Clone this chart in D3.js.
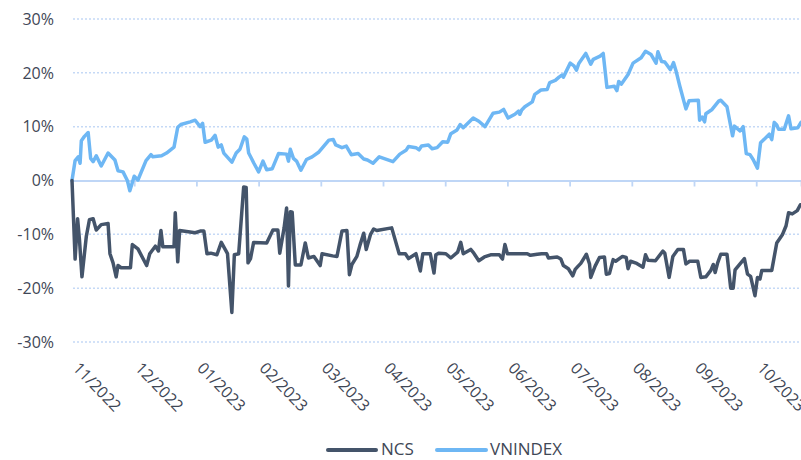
<!DOCTYPE html>
<html>
<head>
<meta charset="utf-8">
<script src="https://cdn.jsdelivr.net/npm/d3@7"></script>
<style>
  html, body { margin: 0; padding: 0; background: #ffffff; }
  svg { display: block; }
</style>
</head>
<body>
<svg id="chart" width="801" height="460"></svg>
<script>
// Month tick labels (one per month, evenly spaced on the axis)
const monthLabels = ["11/2022","12/2022","01/2023","02/2023","03/2023","04/2023","05/2023","06/2023","07/2023","08/2023","09/2023","10/2023"];
const yTicks = [-30, -20, -10, 0, 10, 20, 30];
const seriesNames = ["NCS", "VNINDEX"];

// t = months since 11/2022 start, value in %
const vnindexT = [0,0.05,0.10,0.13,0.15,0.20,0.26,0.30,0.34,0.39,0.47,0.58,0.69,0.74,0.82,0.89,0.93,1.00,1.06,1.19,1.27,1.30,1.44,1.52,1.64,1.70,1.75,1.90,1.98,2.06,2.10,2.14,2.24,2.30,2.35,2.40,2.44,2.57,2.64,2.70,2.77,2.81,2.84,2.89,2.92,3.00,3.07,3.13,3.22,3.32,3.45,3.48,3.51,3.56,3.61,3.68,3.77,3.86,3.97,4.13,4.20,4.24,4.34,4.41,4.49,4.60,4.69,4.75,4.84,4.94,5.16,5.27,5.37,5.41,5.53,5.58,5.62,5.73,5.79,5.87,5.96,6.04,6.09,6.19,6.24,6.29,6.45,6.54,6.64,6.77,6.87,6.94,7.01,7.12,7.18,7.20,7.23,7.28,7.40,7.44,7.54,7.64,7.68,7.77,7.83,7.88,7.90,8.01,8.07,8.11,8.15,8.26,8.34,8.38,8.49,8.54,8.60,8.72,8.76,8.79,8.83,8.94,9.02,9.15,9.22,9.31,9.39,9.42,9.48,9.53,9.62,9.67,9.71,9.77,9.87,9.92,10.07,10.09,10.13,10.17,10.19,10.29,10.40,10.43,10.53,10.62,10.65,10.74,10.79,10.84,10.90,10.95,11.02,11.07,11.15,11.21,11.25,11.29,11.33,11.36,11.45,11.52,11.56,11.67,11.72];
const vnindexV = [0,3.7,4.4,3.2,7.4,8.2,8.9,4.1,3.5,4.6,2.7,5.1,3.8,1.8,1.6,0.0,-1.9,0.8,0.1,3.7,4.8,4.4,4.6,5.1,6.2,9.9,10.4,10.9,11.2,10.0,10.6,7.1,7.5,8.4,6.2,6.6,5.1,3.4,5.1,5.8,8.1,7.7,5.1,4.0,3.3,1.6,3.6,2.0,2.2,5.0,4.9,3.6,5.8,4.1,3.6,1.9,3.9,4.4,5.3,7.5,7.6,6.6,6.1,6.4,4.8,5.0,4.0,3.8,3.2,4.4,3.5,4.9,5.6,6.3,6.1,5.7,6.4,6.6,5.9,6.1,7.2,7.1,8.7,9.4,10.4,9.8,11.6,11.0,10.0,12.5,12.7,13.2,11.6,12.3,12.9,12.3,13.1,13.7,14.6,16.0,16.8,16.9,18.2,18.6,19.2,19.6,19.2,21.8,21.3,20.5,21.8,23.6,21.6,22.5,23.1,23.6,17.3,17.5,16.7,18.4,17.9,19.7,21.8,22.8,24.0,23.4,21.8,23.9,22.1,22.0,20.6,21.9,20.4,17.6,13.3,14.8,14.9,11.2,11.8,10.9,12.4,13.2,14.8,14.9,13.7,8.3,10.1,9.2,10.0,5.0,4.8,3.9,2.3,7.0,7.9,8.6,7.6,10.8,10.3,9.5,9.5,12.0,9.6,9.8,10.8];

const ncsT = [0,0.05,0.09,0.12,0.16,0.23,0.28,0.34,0.39,0.47,0.58,0.61,0.66,0.71,0.74,0.79,0.94,0.97,1.06,1.20,1.25,1.34,1.39,1.43,1.46,1.64,1.66,1.70,1.73,1.98,2.06,2.12,2.17,2.23,2.33,2.40,2.50,2.57,2.61,2.68,2.76,2.80,2.83,2.87,2.92,3.13,3.23,3.31,3.34,3.41,3.45,3.48,3.51,3.54,3.59,3.68,3.75,3.80,3.89,3.99,4.02,4.19,4.26,4.34,4.42,4.46,4.50,4.58,4.63,4.69,4.73,4.80,4.85,4.90,5.14,5.26,5.36,5.41,5.53,5.60,5.64,5.76,5.82,5.85,5.90,6.01,6.09,6.20,6.25,6.29,6.41,6.46,6.54,6.63,6.73,6.87,6.92,6.96,7.00,7.32,7.37,7.48,7.55,7.63,7.66,7.80,7.86,7.90,7.98,8.05,8.09,8.13,8.18,8.27,8.32,8.34,8.41,8.48,8.56,8.59,8.64,8.70,8.74,8.85,8.91,8.94,8.98,9.08,9.18,9.22,9.26,9.38,9.50,9.53,9.60,9.66,9.74,9.83,9.87,9.93,10.06,10.11,10.19,10.27,10.31,10.34,10.38,10.43,10.53,10.59,10.63,10.66,10.81,10.86,10.91,10.98,11.02,11.06,11.09,11.25,11.33,11.42,11.48,11.52,11.58,11.66,11.71];
const ncsV = [0,-14.6,-7.1,-11.0,-17.9,-10.4,-7.3,-7.1,-9.2,-8.2,-8.0,-13.6,-15.3,-17.9,-15.8,-16.2,-16.2,-11.9,-12.7,-15.8,-13.6,-12.2,-13.1,-9.3,-12.3,-12.3,-6.0,-15.1,-9.3,-9.7,-9.4,-9.4,-13.6,-13.5,-13.8,-11.5,-13.6,-24.5,-13.8,-13.6,-1.2,-1.3,-15.3,-14.5,-11.5,-11.6,-9.2,-9.2,-13.5,-8.8,-5.1,-19.6,-5.8,-5.9,-15.7,-15.7,-11.6,-14.4,-14.1,-15.8,-13.6,-14.0,-14.1,-9.4,-9.3,-17.5,-15.6,-14.1,-12.0,-9.8,-12.8,-10.0,-9.0,-9.3,-8.8,-13.6,-13.6,-14.5,-13.6,-16.8,-13.6,-13.6,-17.2,-13.8,-13.5,-13.6,-14.4,-13.3,-11.5,-13.6,-12.8,-13.5,-14.9,-14.2,-13.8,-13.8,-14.6,-11.9,-13.6,-13.6,-13.9,-13.7,-13.6,-13.6,-14.4,-14.2,-14.6,-15.8,-16.4,-17.7,-16.5,-16.0,-15.4,-13.7,-15.5,-18.0,-15.9,-14.3,-14.2,-17.4,-17.3,-14.7,-15.0,-14.1,-14.3,-16.4,-15.0,-15.4,-16.1,-13.8,-14.8,-14.9,-13.1,-13.5,-18.0,-14.1,-12.8,-12.8,-15.5,-15.0,-15.0,-18.0,-17.9,-16.7,-15.6,-17.1,-15.3,-13.7,-13.7,-20.0,-20.0,-16.6,-14.5,-17.4,-17.8,-21.4,-18.0,-18.3,-16.7,-16.7,-11.6,-10.1,-8.4,-6.0,-6.2,-5.6,-4.5];

const colors = { NCS: "#44546A", VNINDEX: "#6EB7F4" };
const textColor = "#3F4756";
const gridColor = "#C5D9F6";
const font = "'Open Sans', 'Noto Sans', sans-serif";

const svg = d3.select("#chart");
const plotLeft = 72, plotRight = 801, plotTop = 19, plotBottom = 342;

const x = d3.scaleLinear().domain([0, 11.72]).range([plotLeft, plotRight]);
const y = d3.scaleLinear().domain([-30, 30]).range([plotBottom, plotTop]);

// Gridlines
svg.append("g").selectAll("line").data(yTicks.filter(d => d !== 0)).join("line")
  .attr("x1", plotLeft + 1).attr("x2", plotRight)
  .attr("y1", d => y(d)).attr("y2", d => y(d))
  .attr("stroke", gridColor).attr("stroke-width", 1.5)
  .attr("stroke-dasharray", "2,2");

// Y labels
svg.append("g").selectAll("text").data(yTicks).join("text")
  .attr("x", 54).attr("y", d => y(d))
  .attr("dy", "0.36em")
  .attr("text-anchor", "end")
  .attr("font-family", font).attr("font-size", 16)
  .attr("fill", textColor)
  .text(d => d + "%");

// Zero axis with month ticks
const xAxis = d3.axisBottom(x)
  .tickValues(d3.range(monthLabels.length))
  .tickSize(6).tickFormat("");
const ax = svg.append("g").attr("transform", `translate(0,${y(0)})`).call(xAxis);
ax.select(".domain").attr("stroke", "#BFD6F6").attr("stroke-width", 1.8);
ax.selectAll(".tick line").attr("stroke", "#BFD6F6").attr("stroke-width", 1.8);
ax.selectAll(".tick").filter(d => d === 0).remove();

// Month labels rotated
svg.append("g").selectAll("text").data(monthLabels).join("text")
  .attr("transform", (d, i) => `translate(${x(i) + 4},${plotBottom + 23}) rotate(46)`)
  .attr("dy", "0.35em")
  .attr("text-anchor", "start")
  .attr("font-family", font).attr("font-size", 16)
  .attr("fill", textColor)
  .text(d => d);

// Lines
const line = d3.line().x(d => x(d[0])).y(d => y(d[1])).curve(d3.curveLinear);
const vnData = d3.zip(vnindexT, vnindexV);
const ncsData = d3.zip(ncsT, ncsV);

svg.append("path").datum(vnData)
  .attr("d", line).attr("fill", "none")
  .attr("stroke", colors.VNINDEX).attr("stroke-width", 3.5)
  .attr("stroke-linejoin", "round").attr("stroke-linecap", "round");

svg.append("path").datum(ncsData)
  .attr("d", line).attr("fill", "none")
  .attr("stroke", colors.NCS).attr("stroke-width", 3.5)
  .attr("stroke-linejoin", "round").attr("stroke-linecap", "round");

// Legend
const legend = svg.append("g");
const legendItems = [
  { name: seriesNames[0], x0: 328, x1: 376, tx: 381 },
  { name: seriesNames[1], x0: 437, x1: 486, tx: 490 }
];
legendItems.forEach(it => {
  legend.append("line")
    .attr("x1", it.x0).attr("x2", it.x1)
    .attr("y1", 450).attr("y2", 450)
    .attr("stroke", colors[it.name]).attr("stroke-width", 4)
    .attr("stroke-linecap", "round");
  legend.append("text")
    .attr("x", it.tx).attr("y", 455)
    .attr("font-family", font).attr("font-size", 17)
    .attr("fill", textColor)
    .text(it.name);
});
</script>
</body>
</html>
